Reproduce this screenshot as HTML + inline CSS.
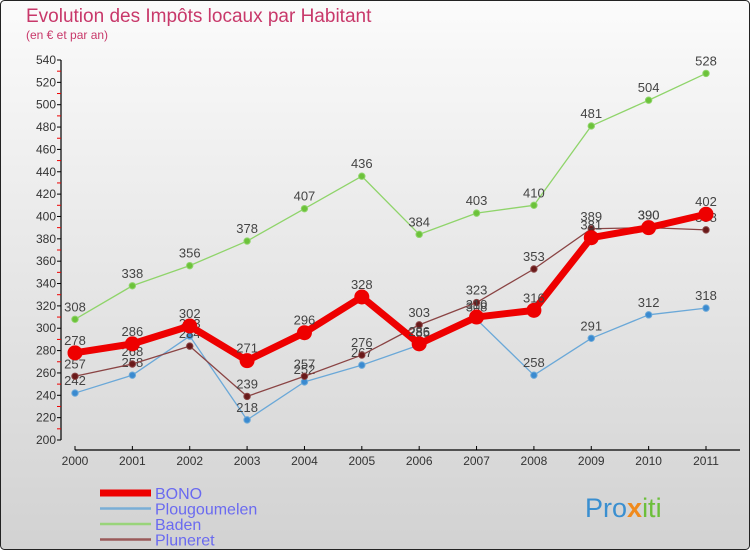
<!DOCTYPE html>
<html><head><meta charset="utf-8"><style>
html,body{margin:0;padding:0;}
body{width:750px;height:550px;overflow:hidden;font-family:"Liberation Sans",sans-serif;}
</style></head><body>
<svg id="chart" width="750" height="550" xmlns="http://www.w3.org/2000/svg">
<defs>
<linearGradient id="bg" x1="0" y1="0" x2="0" y2="1">
<stop offset="0" stop-color="#fbfbfb"/><stop offset="1" stop-color="#d2d2d2"/>
</linearGradient>
</defs>
<rect x="0.5" y="0.5" width="749" height="549" rx="4" fill="url(#bg)" stroke="#222"/>
<text x="26" y="22" font-size="19" fill="#c8386a">Evolution des Impôts locaux par Habitant</text>
<text x="26" y="39" font-size="12" fill="#c8386a">(en € et par an)</text>
<g id="axes"></g>
<g id="series"></g>
<g id="legend"></g>
<text x="585" y="517" font-size="27" fill="#3a8fd0">Pro<tspan fill="#f08a1c" font-weight="bold">x</tspan><tspan fill="#6cbf3a">iti</tspan></text>
</svg>
<script>
const years = ["2000","2001","2002","2003","2004","2005","2006","2007","2008","2009","2010","2011"];
const bono = [278,286,302,271,296,328,286,310,316,381,390,402];
const plougoumelen = [242,258,293,218,252,267,285,308,258,291,312,318];
const baden = [308,338,356,378,407,436,384,403,410,481,504,528];
const pluneret = [257,268,284,239,257,276,303,323,353,389,390,388];
const yTicks = [200,220,240,260,280,300,320,340,360,380,400,420,440,460,480,500,520,540];

const NS="http://www.w3.org/2000/svg";
const x = i => 75 + i*(706-75)/11;
const y = v => 440 - (v-200)*380/340;
function mk(tag, attrs, parent){const e=document.createElementNS(NS,tag);for(const k in attrs)e.setAttribute(k,attrs[k]);parent.appendChild(e);return e;}
const axes=document.getElementById('axes'), series=document.getElementById('series'), legend=document.getElementById('legend');

let yl=mk('line',{x1:61,y1:y(540),x2:61,y2:y(200),stroke:'#000','stroke-width':1.2},axes);


yTicks.forEach((t,i)=>{
  mk('line',{x1:57,y1:y(t),x2:61,y2:y(t),stroke:'#000'},axes);
  if(i<yTicks.length-1) mk('line',{x1:57,y1:y(t+10),x2:61,y2:y(t+10),stroke:'#e00'},axes);
  const tx=mk('text',{x:56,y:y(t)+4,'font-size':12,'text-anchor':'end',fill:'#333'},axes);
  tx.textContent=t;
  
  
});
let xl=mk('line',{x1:x(0),y1:450,x2:740,y2:450,stroke:'#000','stroke-width':1.2},axes);


years.forEach((yr,i)=>{
  mk('line',{x1:x(i),y1:446,x2:x(i),y2:450,stroke:'#000'},axes);
  const tx=mk('text',{x:x(i),y:465,'font-size':12,'text-anchor':'middle',fill:'#333'},axes);
  tx.textContent=yr;
  
  
});

function drawSeries(vals,name,color,dot,lw,r){
  const g=mk('g',{},series);
  
  
  const pl=mk('polyline',{points:vals.map((v,i)=>x(i)+','+y(v)).join(' '),fill:'none',stroke:color,'stroke-width':lw,'stroke-linejoin':'round'},g);
  
  
  vals.forEach((v,i)=>{
    const c=mk('circle',{cx:x(i),cy:y(v),r:r,fill:dot,stroke:color,'stroke-width':1},g);
    
    
    const t=mk('text',{x:x(i),y:y(v)-8,'font-size':13,'text-anchor':'middle',fill:'#444'},g);
    t.textContent=v;
    
    
  });
}
drawSeries(baden,'baden','#8fd46a','#6cc23a',1.3,3.2);
drawSeries(plougoumelen,'plougoumelen','#6aa8d8','#3a8ad0',1.3,3.2);
drawSeries(pluneret,'pluneret','#8a4444','#6a1a1a',1.3,3.2);
drawSeries(bono,'bono','#ee0000','#ee0000',7,7);

const leg=[['BONO','#ee0000',7],['Plougoumelen','#7aaed6',2.5],['Baden','#99d47a',2.5],['Pluneret','#9a5a5a',2.5]];
leg.forEach((l,i)=>{
  const yy=493+i*15.5;
  const g=mk('g',{},legend);
  
  
  mk('line',{x1:100,y1:yy,x2:151,y2:yy,stroke:l[1],'stroke-width':l[2]},g);
  const t=mk('text',{x:155,y:yy+6,'font-size':16,fill:'#6a6af0'},g);
  t.textContent=l[0];
});
</script>
</body></html>
